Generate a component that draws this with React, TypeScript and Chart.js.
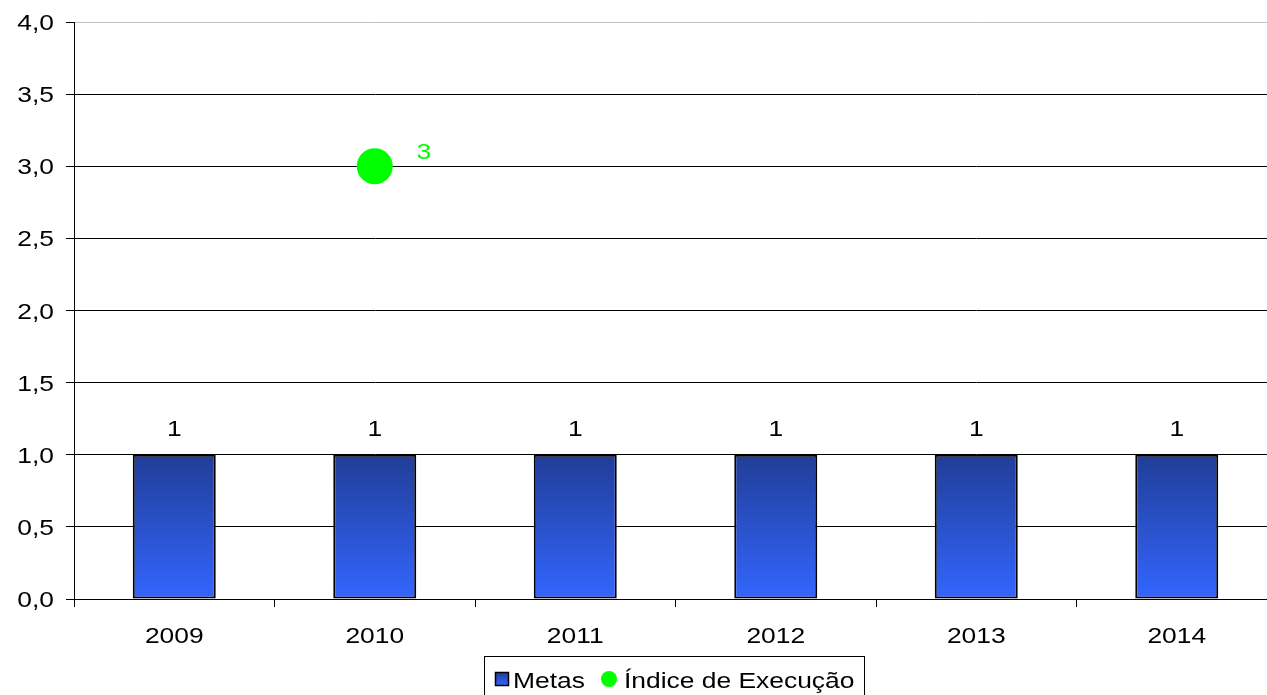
import React, { useEffect, useRef } from "react";
import { Chart, registerables } from "chart.js";

Chart.register(...registerables);

const categories = ["2009", "2010", "2011", "2012", "2013", "2014"];
const metas = [1, 1, 1, 1, 1, 1];
const indiceExecucao = [null, 3, null, null, null, null];
const yTickValues = [0, 0.5, 1, 1.5, 2, 2.5, 3, 3.5, 4];
const seriesNames = ["Metas", "Índice de Execução"];

const FONT = '"Liberation Sans", Arial, sans-serif';
const SX = 1.2;

function drawText(ctx: CanvasRenderingContext2D, text: string, x: number, y: number, align: CanvasTextAlign, color: string, size = 22) {
  ctx.save();
  ctx.font = `${size}px ${FONT}`;
  ctx.fillStyle = color;
  ctx.textBaseline = "alphabetic";
  ctx.textAlign = align;
  ctx.translate(x, y);
  ctx.scale(SX, 1);
  ctx.fillText(text, 0, 0);
  ctx.restore();
}

const textPlugin = {
  id: "customText",
  afterDraw(chart: any) {
    const ctx: CanvasRenderingContext2D = chart.ctx;
    const xs = chart.scales.x;
    const ys = chart.scales.y;
    yTickValues.forEach((v) => {
      const py = ys.getPixelForValue(v);
      drawText(ctx, v.toFixed(1).replace(".", ","), 54, py + 8, "right", "#000");
    });
    categories.forEach((c, i) => {
      drawText(ctx, c, xs.getPixelForValue(i), 643, "center", "#000");
    });
    const barMeta = chart.getDatasetMeta(1);
    barMeta.data.forEach((el: any, i: number) => {
      const v = metas[i];
      if (v == null) return;
      drawText(ctx, String(v), el.x, el.y - 19, "center", "#000");
    });
    const ptMeta = chart.getDatasetMeta(0);
    ptMeta.data.forEach((el: any, i: number) => {
      const v = indiceExecucao[i];
      if (v == null) return;
      drawText(ctx, String(v), el.x + 49, el.y - 7, "center", "#00ff00");
    });
    ctx.save();
    ctx.strokeStyle = "#000";
    ctx.lineWidth = 1;
    ctx.strokeRect(484.5, 656.5, 380, 60);
    const g = ctx.createLinearGradient(0, 672, 0, 686);
    g.addColorStop(0, "#213d97");
    g.addColorStop(1, "#3366ff");
    ctx.fillStyle = g;
    ctx.fillRect(495.5, 672.5, 13, 13);
    ctx.lineWidth = 1.5;
    ctx.strokeRect(495.5, 672.5, 13, 13);
    ctx.fillStyle = "#00ff00";
    ctx.beginPath();
    ctx.arc(609, 679, 8, 0, Math.PI * 2);
    ctx.fill();
    ctx.restore();
    drawText(ctx, seriesNames[0], 513, 688, "left", "#000");
    drawText(ctx, seriesNames[1], 624, 688, "left", "#000");
  },
};

export default function App() {
  const ref = useRef<HTMLCanvasElement | null>(null);
  useEffect(() => {
    if (!ref.current) return;
    const chart = new Chart(ref.current, {
      type: "bar",
      data: {
        labels: categories,
        datasets: [
          {
            type: "line",
            label: seriesNames[1],
            data: indiceExecucao as any,
            showLine: false,
            pointRadius: 18,
            pointHoverRadius: 18,
            pointBackgroundColor: "#00ff00",
            pointBorderWidth: 0,
            borderColor: "#00ff00",
            backgroundColor: "#00ff00",
            order: 0,
          } as any,
          {
            type: "bar",
            label: seriesNames[0],
            data: metas,
            backgroundColor: (c: any) => {
              const chart = c.chart;
              if (!chart.chartArea || c.raw == null) return "#2a50d0";
              const y = chart.scales.y;
              const g = chart.ctx.createLinearGradient(0, y.getPixelForValue(c.raw), 0, y.getPixelForValue(0));
              g.addColorStop(0, "#213d97");
              g.addColorStop(1, "#3366ff");
              return g;
            },
            borderColor: "#000",
            borderWidth: 2,
            borderSkipped: false,
            barPercentage: 0.414,
            categoryPercentage: 1,
            order: 1,
          } as any,
        ],
      },
      options: {
        animation: false,
        responsive: false,
        events: [],
        layout: { padding: { top: 22, right: 3, left: 0, bottom: 0 } },
        plugins: {
          legend: { display: false },
          tooltip: { enabled: false },
        },
        scales: {
          x: {
            type: "category",
            offset: true,
            grid: {
              offset: true,
              drawOnChartArea: false,
              drawTicks: true,
              tickLength: 8,
              color: "#000",
              lineWidth: 1,
            },
            border: { display: true, color: "#000", width: 1 },
            ticks: { color: "rgba(0,0,0,0)", font: { size: 12 } },
            afterFit: (s: any) => {
              s.height = 96;
            },
          },
          y: {
            min: 0,
            max: 4,
            ticks: { stepSize: 0.5, color: "rgba(0,0,0,0)", font: { size: 12 } },
            grid: {
              color: (c: any) => (c.tick && c.tick.value === 4 ? "#c0c0c0" : "#000"),
              tickColor: "#000",
              tickLength: 8,
              lineWidth: 1,
            },
            border: { display: true, color: "#000", width: 1 },
            afterFit: (s: any) => {
              s.width = 74;
            },
          },
        },
      },
      plugins: [textPlugin],
    });
    return () => chart.destroy();
  }, []);
  return (
    <div style={{ position: "fixed", left: 0, top: 0, width: 1267, height: 695, overflow: "hidden", background: "#fff" }}>
      <canvas ref={ref} width={1295} height={695} style={{ display: "block" }} />
    </div>
  );
}
